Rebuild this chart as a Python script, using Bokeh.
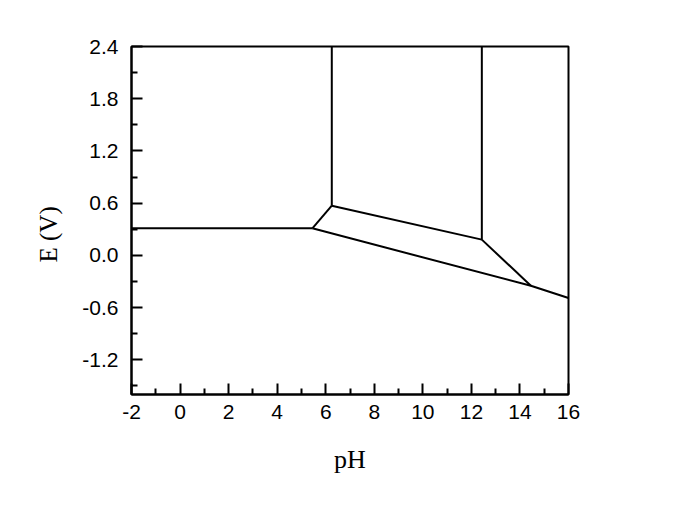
from bokeh.plotting import figure
from bokeh.models import Range1d, FixedTicker, PrintfTickFormatter, Title
from bokeh.embed import file_html
from bokeh.resources import INLINE

# ---- data (pH, E in volts) ----
x_ticks = [-2, 0, 2, 4, 6, 8, 10, 12, 14, 16]
x_minor = [-1, 1, 3, 5, 7, 9, 11, 13, 15]
y_ticks = [-1.2, -0.6, 0.0, 0.6, 1.2, 1.8, 2.4]
y_minor = [-1.5, -0.9, -0.3, 0.3, 0.9, 1.5, 2.1]

flat_ph = [-2.0, 5.45]
flat_E = [0.31, 0.31]
lower_ph = [5.45, 14.45, 16.0]
lower_E = [0.31, -0.35, -0.49]
short_ph = [5.45, 6.25]
short_E = [0.31, 0.57]
middle_ph = [6.25, 12.43]
middle_E = [0.57, 0.18]
diag_ph = [12.43, 14.45]
diag_E = [0.18, -0.35]
vert1_ph = [6.25, 6.25]
vert1_E = [0.57, 2.4]
vert2_ph = [12.43, 12.43]
vert2_E = [0.18, 2.4]

xs = [flat_ph, lower_ph, short_ph, middle_ph, diag_ph, vert1_ph, vert2_ph]
ys = [flat_E, lower_E, short_E, middle_E, diag_E, vert1_E, vert2_E]

p = figure(frame_width=437, frame_height=348,
           min_border_left=131, min_border_top=46,
           min_border_right=113, min_border_bottom=100,
           x_range=Range1d(-2, 16), y_range=Range1d(-1.6, 2.4),
           output_backend="svg", toolbar_location=None)

p.multi_line(xs=xs, ys=ys, line_color="black", line_width=2)

p.grid.visible = False
p.outline_line_color = "black"
p.outline_line_width = 2
p.outline_line_alpha = 1.0

p.xaxis.ticker = FixedTicker(ticks=x_ticks, minor_ticks=x_minor)
p.yaxis.ticker = FixedTicker(ticks=y_ticks, minor_ticks=y_minor)
p.xaxis.formatter = PrintfTickFormatter(format="%d")
p.yaxis.formatter = PrintfTickFormatter(format="%.1f")

for ax in (p.xaxis[0], p.yaxis[0]):
    ax.axis_line_color = "black"
    ax.axis_line_width = 2
    ax.major_tick_line_color = "black"
    ax.major_tick_line_width = 2
    ax.minor_tick_line_color = "black"
    ax.minor_tick_line_width = 2
    ax.major_tick_in = 11
    ax.major_tick_out = 0
    ax.minor_tick_in = 6
    ax.minor_tick_out = 0
    ax.major_label_text_font = "Liberation Sans"
    ax.major_label_text_font_size = "21px"
    ax.major_label_text_color = "black"

p.xaxis.major_label_standoff = 10
p.yaxis.major_label_standoff = 13

p.xaxis.axis_label = "pH"
p.xaxis.axis_label_text_font = "Liberation Serif"
p.xaxis.axis_label_text_font_size = "26px"
p.xaxis.axis_label_text_font_style = "normal"
p.xaxis.axis_label_text_color = "black"
p.xaxis.axis_label_standoff = 23

ytitle = Title(text="E (V)", align="left", offset=132, standoff=35,
               text_font="Liberation Serif", text_font_size="25px",
               text_font_style="normal", text_color="black")
p.add_layout(ytitle, "left")

open("out.html", "w").write(file_html(p, INLINE))
